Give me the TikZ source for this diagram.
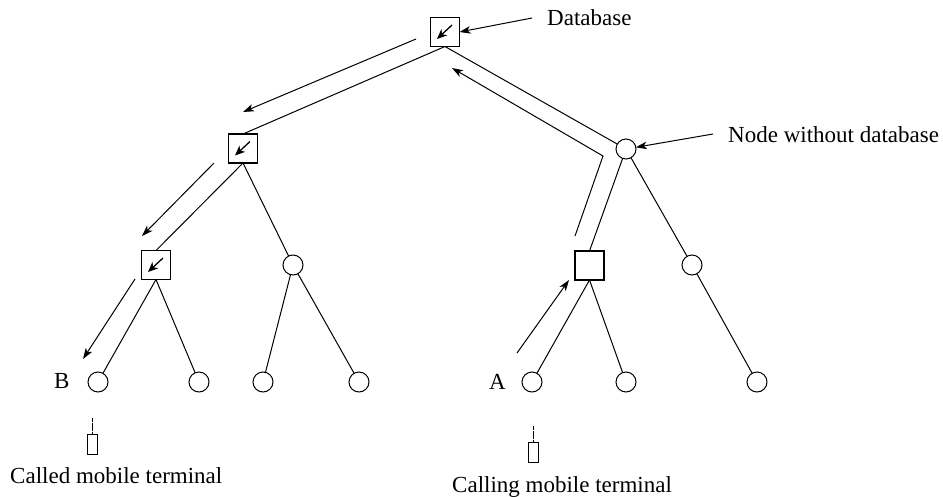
\documentclass[tikz,border=0pt]{standalone}
\usepackage{fontspec}
\setmainfont{Liberation Serif}
\usetikzlibrary{arrows.meta}
\tikzset{x=1pt,y=-1pt,
 sq/.style={draw,line width=1.1pt,minimum size=29pt,inner sep=0pt,outer sep=0pt},
 ci/.style={draw,circle,line width=1pt,minimum size=20pt,inner sep=0pt,outer sep=0pt},
 phone/.style={draw,line width=0.8pt,minimum width=10.5pt,minimum height=20pt,inner sep=0pt,outer sep=0pt},
 lnk/.style={line width=1pt},
 flow/.style={line width=1pt,-{Stealth[length=11pt,width=7.5pt,inset=3pt]}},
 inner/.style={line width=1.3pt,-{Stealth[length=10pt,width=8.5pt,inset=3pt]}},
 ant/.style={line width=0.8pt,dash pattern=on 4pt off 0.5pt},
 lab/.style={font=\fontsize{23}{26}\selectfont,inner sep=0pt,anchor=base west}}
\begin{document}
\begin{tikzpicture}
\useasboundingbox (0,0) rectangle (943,496);
\node[sq] (r) at (445,32) {};
\node[sq] (n1) at (243,148.5) {};
\node[sq] (n2) at (156,265) {};
\node[sq] (n3) at (589.5,265.5) {};
\node[ci] (c1) at (626,149) {};
\node[ci] (c2) at (293,265) {};
\node[ci] (c3) at (692,265) {};
\node[ci] (l1) at (98,382) {};
\node[ci] (l2) at (199,382) {};
\node[ci] (l3) at (263,382) {};
\node[ci] (l4) at (359,382) {};
\node[ci] (l5) at (532,382) {};
\node[ci] (l6) at (626,382) {};
\node[ci] (l7) at (757,382) {};
\node[phone] (p1) at (92.5,444.5) {};
\node[phone] (p2) at (533.5,452.5) {};
\draw[lnk] (r.south) -- (c1);
\draw[lnk] (r.south) -- (n1.north);
\draw[lnk] (n1.south) -- (n2.north);
\draw[lnk] (n1.south) -- (c2);
\draw[lnk] (c1) -- (n3.north);
\draw[lnk] (c1) -- (c3);
\draw[lnk] (n2.south) -- (l1);
\draw[lnk] (n2.south) -- (l2);
\draw[lnk] (c2) -- (l3);
\draw[lnk] (c2) -- (l4);
\draw[lnk] (n3.south) -- (l5);
\draw[lnk] (n3.south) -- (l6);
\draw[lnk] (c3) -- (l7);
\coordinate (a1s) at (416,39); \coordinate (a1e) at (243,112);
\coordinate (a2s) at (214,163); \coordinate (a2e) at (142,236);
\coordinate (a3s) at (135,279); \coordinate (a3e) at (83,359);
\coordinate (a4s) at (517,353); \coordinate (a4e) at (569,280);
\coordinate (a5s) at (575,236); \coordinate (a5m) at (603,156); \coordinate (a5e) at (452,68);
\draw[flow] (a1s) -- (a1e);
\draw[flow] (a2s) -- (a2e);
\draw[flow] (a3s) -- (a3e);
\draw[flow] (a4s) -- (a4e);
\draw[flow] (a5s) -- (a5m) -- (a5e);
\coordinate (i1s) at (452,25); \coordinate (i1e) at (437,39);
\coordinate (i2s) at (250,141.5); \coordinate (i2e) at (235,155.5);
\coordinate (i3s) at (163,258); \coordinate (i3e) at (148,272);
\draw[inner] (i1s) -- (i1e);
\draw[inner] (i2s) -- (i2e);
\draw[inner] (i3s) -- (i3e);
\node[lab] (db) at (547,25) {Database};
\node[lab] (nw) at (728,142) {Node without database};
\node[lab] (tb) at (54,388) {B};
\node[lab] (ta) at (489,389) {A};
\node[lab] (t1) at (10,483) {Called mobile terminal};
\node[lab] (t2) at (452,492) {Calling mobile terminal};
\coordinate (d1) at (532,18); \coordinate (d2) at (713,134);
\draw[flow] (d1) -- (r.east);
\draw[flow] (d2) -- (c1);
\coordinate (an1) at (92.5,418); \coordinate (an2) at (533.5,426);
\draw[ant] (an1) -- (p1.north);
\draw[ant] (an2) -- (p2.north);
\end{tikzpicture}
\end{document}
